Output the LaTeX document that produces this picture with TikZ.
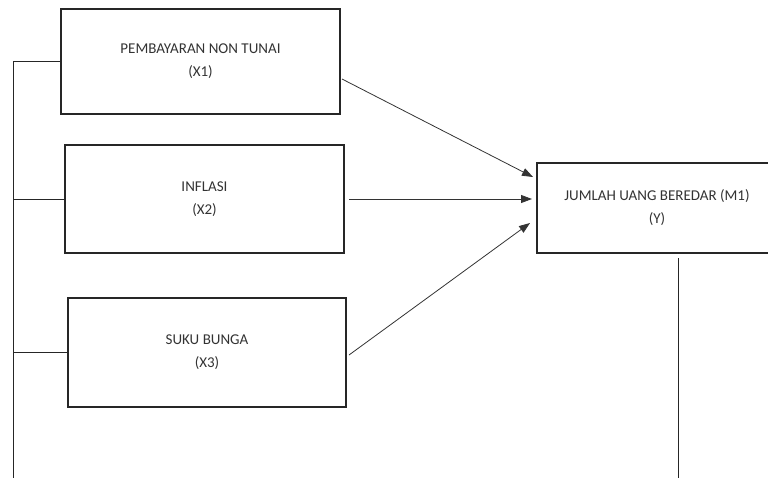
\documentclass[tikz,border=0pt]{standalone}
\usepackage{fontspec}
\setmainfont{Carlito}
\usetikzlibrary{arrows.meta}
\begin{document}
\begin{tikzpicture}[x=1pt,y=-1pt,
  box/.style={draw=black!85, line width=1.6pt, rectangle, inner sep=0pt, align=center,
    font=\fontsize{15}{23}\selectfont, text=black!80},
  link/.style={line width=1pt, draw=black!85},
  arr/.style={line width=0.8pt, draw=black!80, -{Triangle[length=11pt,width=8pt]}}]
\useasboundingbox (0,0) rectangle (768,477);
\clip (0,0) rectangle (768,477);
\node[box, minimum width=279pt, minimum height=105pt] (x1) at (200.5,61.5) {PEMBAYARAN NON TUNAI\\(X1)};
\node[box, minimum width=279pt, minimum height=108pt] (x2) at (204.5,199) {INFLASI\\(X2)};
\node[box, minimum width=278pt, minimum height=109pt] (x3) at (207,352.5) {SUKU BUNGA\\(X3)};
\node[box, minimum width=240pt, minimum height=90pt] (y) at (657,208) {JUMLAH UANG BEREDAR (M1)\\(Y)};
% arrow ends
\coordinate (a1s) at (342,79);
\coordinate (a1e) at (533,177);
\coordinate (a2s) at (349,199);
\coordinate (a2e) at (532,199);
\coordinate (a3s) at (349,355);
\coordinate (a3e) at (530,223);
\draw[arr] (a1s) -- (a1e);
\draw[arr] (a2s) -- (a2e);
\draw[arr] (a3s) -- (a3e);
% left bus
\coordinate (bus) at (13,0);
\coordinate (bottom) at (0,480);
\draw[link] (x1.west) -- (x1.west -| bus) -- (bus |- bottom);
\draw[link] (x2.west) -- (x2.west -| bus);
\draw[link] (x3.west) -- (x3.west -| bus);
% output line
\coordinate (ys) at (678,258);
\draw[link] (ys) -- (ys |- bottom);
\end{tikzpicture}
\end{document}
